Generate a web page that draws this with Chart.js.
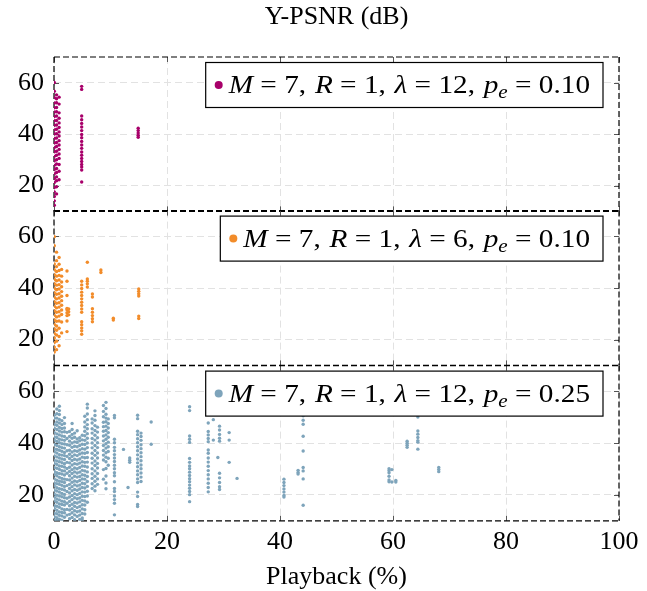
<!DOCTYPE html>
<html>
<head>
<meta charset="utf-8">
<title>Y-PSNR vs playback</title>
<script src="https://cdn.jsdelivr.net/npm/chart.js@4.4.1/dist/chart.umd.min.js"></script>
<style>
  html, body { margin: 0; padding: 0; background: #fff; overflow: hidden; }
  #wrap { position: relative; width: 647px; height: 591px; overflow: hidden; }
  #wrap canvas { position: absolute; left: 0; }
</style>
</head>
<body>
<div id="wrap">
  <canvas id="panel1" width="647" height="213" style="top:0px"></canvas>
  <canvas id="panel2" width="647" height="162" style="top:205px"></canvas>
  <canvas id="panel3" width="647" height="231" style="top:360px"></canvas>
</div>
<script>
// ticks
const playbackTicks = [0, 20, 40, 60, 80, 100];
const psnrTicks = [20, 40, 60];

// legend parameters per panel
const paramM = [7, 7, 7];
const paramR = [1, 1, 1];
const paramLambda = [12, 6, 12];
const paramPe = ['0.10', '0.10', '0.25'];

// panel 1: lambda = 12, pe = 0.10  (playback positions and the PSNR values seen there)
const playback1 = [0.05, 0.45, 0.9, 4.9, 14.9];
const psnr1 = [
  [12.4, 14.1, 15.8, 17.6, 19.3, 21.2, 22.8, 24.6, 26.3, 27.9, 29.7, 31.4, 33.2, 34.8, 36.6, 38.3, 40.1, 41.7, 43.5, 45.2, 46.9, 48.6, 50.3, 52.1, 54.2, 56.7, 60.1],
  [16.8, 19.6, 21.9, 23.4, 25.1, 26.7, 28.4, 30.1, 31.8, 33.4, 35.2, 36.8, 38.5, 40.2, 41.9, 43.6, 45.3, 47.1, 48.7, 50.4, 52.2, 53.8, 55.3],
  [22.3, 25.6, 28.2, 30.6, 32.3, 34.1, 35.8, 37.5, 39.3, 40.9, 42.6, 44.4, 46.2, 48.3, 51.7, 54.4],
  [21.4, 26.1, 27.3, 28.2, 29.4, 30.6, 31.8, 33.1, 34.5, 35.8, 37.2, 38.6, 39.9, 41.4, 42.8, 44.2, 45.6, 47.1, 57.4, 58.6],
  [38.8, 39.6, 40.5, 41.4, 42.3]
];

// panel 2: lambda = 6, pe = 0.10
const playback2 = [0.05, 0.45, 0.9, 1.35, 2.3, 2.6, 4.9, 5.9, 6.8, 8.3, 10.5, 15.0];
const psnr2 = [
  [15.2, 17.1, 18.9, 20.6, 22.4, 24.1, 25.9, 27.6, 29.4, 31.2, 32.9, 34.7, 36.4, 38.2, 39.9, 41.7, 43.4, 45.2, 47.1, 49.3, 56.4, 59.9],
  [16.1, 19.4, 21.8, 23.6, 25.3, 27.1, 28.8, 30.6, 32.3, 34.1, 35.8, 37.6, 39.3, 41.1, 42.8, 44.6, 46.4, 48.3, 50.6, 53.9],
  [17.6, 21.2, 24.4, 27.2, 29.1, 30.8, 32.6, 34.3, 36.1, 37.8, 39.6, 41.3, 43.1, 44.9, 46.8, 49.2, 51.8],
  [22.6, 26.8, 29.7, 31.5, 33.3, 35.1, 36.8, 38.6, 40.5, 42.3, 44.6, 47.2],
  [23.1, 27.2, 29.3, 30.4, 31.6, 32.1, 37.1, 42.6, 46.6],
  [29.6, 30.8, 31.9],
  [22.1, 23.4, 24.5, 25.8, 26.9, 30.6, 31.9, 33.2, 34.5, 35.8, 37.1, 38.4, 39.8, 41.2, 42.6],
  [40.4, 41.6, 42.6, 43.5, 50.0],
  [26.9, 28.1, 29.3, 30.6, 32.0, 36.5, 37.7],
  [46.0, 47.0],
  [27.6, 28.3],
  [28.2, 29.1, 36.9, 37.8, 38.7, 39.6]
];

// panel 3: lambda = 12, pe = 0.25
const playback3 = [0.05, 0.5, 0.95, 1.4, 1.85, 2.3, 2.75, 3.2, 3.65, 4.1, 4.55, 5.0, 5.45, 5.9,
  6.75, 7.25, 7.7, 8.75, 9.2, 9.6, 10.7, 12.3, 13.1, 13.4, 14.8, 15.4, 17.2,
  24.0, 27.3, 28.2, 29.0, 29.3, 31.0, 32.4, 40.7, 43.2, 44.1, 59.3, 59.8, 60.5, 62.5, 64.4, 68.1];
const psnr3 = [
  [10.3, 11.6, 12.9, 14.8, 15.9, 17.7, 19.1, 20.4, 21.8, 23.5, 24.6, 26.2, 27.9, 29.1, 30.6, 32.2, 33.4, 35.1, 36.7, 37.8, 39.5, 41.2, 42.4, 44.1, 45.8, 47.3, 49.6, 50.8],
  [10.1, 11.2, 12.7, 14.1, 15.6, 17.2, 18.4, 19.9, 21.5, 22.8, 24.3, 25.7, 27.4, 28.6, 30.3, 31.8, 33.1, 34.7, 36.2, 37.6, 39.1, 40.7, 42.2, 43.6, 45.3, 46.9, 48.2, 49.7, 51.4, 53.2],
  [10.6, 12.1, 13.4, 15.2, 16.5, 18.1, 19.6, 21.1, 22.4, 24.1, 25.3, 26.8, 28.3, 29.9, 31.2, 32.8, 34.3, 35.6, 37.3, 38.6, 40.2, 41.5, 43.2, 44.7, 46.1, 47.8, 49.2, 51.1, 52.6, 54.3],
  [10.2, 11.9, 13.2, 14.6, 16.3, 17.6, 19.3, 20.6, 22.2, 23.7, 25.1, 26.4, 28.1, 29.4, 31.1, 32.5, 33.9, 35.4, 36.9, 38.3, 39.8, 41.3, 42.8, 44.3, 45.7, 47.2, 48.7],
  [11.4, 13.1, 14.3, 16.1, 17.4, 18.9, 20.2, 21.9, 23.3, 24.8, 26.1, 27.7, 29.3, 30.8, 32.1, 33.7, 35.2, 36.4, 38.1, 39.7, 41.1, 42.6, 44.4, 45.9, 47.6, 49.9],
  [12.2, 14.4, 16.8, 18.7, 21.3, 23.6, 25.9, 28.4, 30.2, 32.6, 34.9, 37.1, 39.4, 41.8, 44.2],
  [10.8, 12.5, 14.2, 15.8, 17.5, 19.2, 20.8, 22.5, 24.1, 25.8, 27.4, 29.1, 30.7, 32.4, 34.1, 35.7, 37.3, 39.2, 40.8, 42.6, 44.5],
  [11.3, 13.1, 14.7, 16.4, 18.2, 19.8, 21.6, 23.2, 24.9, 26.5, 28.3, 29.8, 31.6, 33.3, 34.9, 36.6, 38.4, 40.1, 41.9, 43.4, 45.3, 47.6],
  [10.4, 12.3, 13.9, 15.6, 17.1, 18.9, 20.5, 22.1, 23.9, 25.4, 27.2, 28.9, 30.4, 32.1, 33.8, 35.5, 37.1, 38.8, 40.5, 42.3, 43.9],
  [11.7, 13.5, 15.1, 16.9, 18.5, 20.1, 21.8, 23.5, 25.1, 26.9, 28.5, 30.1, 31.9, 33.5, 35.2, 36.9, 38.6, 40.3, 41.6, 44.8],
  [10.5, 12.2, 13.8, 15.5, 17.3, 18.8, 20.6, 22.3, 23.8, 25.6, 27.1, 28.8, 30.6, 32.3, 33.9, 35.8, 37.4, 39.1, 40.9, 42.1],
  [10.2, 11.1, 12.8, 14.6, 16.2, 17.9, 19.5, 21.2, 22.9, 24.5, 26.2, 27.8, 29.5, 31.2, 32.8, 34.6, 36.2, 37.9, 39.6, 41.3, 43.1],
  [12.6, 14.3, 16.1, 17.7, 19.4, 21.1, 22.7, 24.3, 26.1, 27.6, 29.3, 31.1, 32.6, 34.4, 36.1, 37.7, 39.5, 41.1, 42.9, 44.6, 46.3, 48.2, 50.4],
  [17.2, 19.6, 21.4, 23.3, 25.2, 27.1, 28.9, 30.8, 32.7, 34.5, 36.4, 38.3, 40.1, 41.9, 43.7, 45.6, 47.2, 49.1, 51.3, 53.6, 55.1],
  [22.5, 24.3, 26.4, 28.2, 30.1, 32.3, 34.2, 36.1, 38.2, 40.1, 41.8, 43.9, 45.6, 47.8, 49.4],
  [21.6, 23.4, 25.3, 27.2, 29.3, 31.4, 33.1, 35.3, 37.2, 39.1, 41.2, 43.1, 44.9, 46.8, 48.9, 50.7, 52.5],
  [24.1, 26.2, 28.3, 30.4, 32.2, 34.3, 36.2, 38.3, 40.2, 42.1, 44.3, 46.2],
  [26.1, 29.8, 33.5, 35.4, 37.2, 39.1, 40.9, 42.8, 44.6, 46.4, 48.1, 50.2, 52.3, 54.6],
  [22.4, 24.6, 27.3, 30.2, 32.8, 34.6, 36.3, 38.1, 39.8, 41.5, 43.2, 44.9, 46.6, 48.3, 49.7, 51.2, 53.4, 55.8],
  [31.5, 34.2, 36.8, 38.6, 40.4, 42.3, 44.1, 45.9, 47.6, 49.4],
  [12.3, 16.8, 18.2, 19.6, 21.3, 22.5, 25.1, 27.4, 28.6, 30.1, 31.5, 32.9, 34.3, 35.6, 37.1, 38.4, 40.2, 41.5, 49.8, 50.7],
  [37.6],
  [22.9],
  [32.6, 33.4, 34.3],
  [15.5, 16.3, 19.4, 21.1, 24.8, 26.2, 27.8, 29.3, 30.9, 32.4, 33.9, 35.5, 37.1, 38.6, 40.2, 41.7, 43.3, 44.6, 49.5, 50.8],
  [25.2, 26.9, 28.5, 30.1, 31.6, 33.2, 34.8, 36.3, 37.9, 39.4, 41.1, 42.6, 43.9],
  [48.2, 39.6],
  [17.4, 20.1, 21.3, 22.6, 23.8, 25.1, 26.3, 27.5, 28.8, 30.1, 31.2, 32.6, 34.1, 40.3, 41.5, 42.8, 52.6, 54.1],
  [21.2, 22.9, 24.5, 26.2, 27.8, 29.4, 31.1, 32.7, 34.3, 36.1, 37.4, 40.6, 41.8, 43.2, 44.5, 47.8],
  [49.1, 41.2],
  [34.5],
  [46.6, 45.1, 43.4, 41.9, 40.8, 28.4, 26.6, 24.8, 23.2, 22.1],
  [44.1, 41.2, 32.6],
  [26.4],
  [26.1, 24.8, 23.6, 22.3, 21.1, 19.8, 19.2],
  [29.5, 28.7, 28.1],
  [54.1, 52.3, 50.6, 48.9, 47.3, 42.7, 37.0, 30.6, 29.3, 26.2, 16.0],
  [30.1, 29.4, 28.6, 27.2, 25.8, 25.1],
  [29.8, 25.0],
  [25.0, 25.6],
  [40.8, 40.0, 39.2, 38.4],
  [51.0, 50.1, 44.7, 43.5, 42.2, 41.0, 40.4, 37.7],
  [30.6, 29.8, 29.0]
];

const playbacks = [playback1, playback2, playback3];
const psnrs = [psnr1, psnr2, psnr3];
const colors = ['#a8006a', '#f28c2a', '#7ea4bb'];

// where each plot frame should sit on the page (top, bottom in px)
const frameTop = [57, 211, 366];
const frameBottom = [211, 366, 521];

Chart.defaults.font.family = '"Liberation Serif", "Times New Roman", serif';
Chart.defaults.color = '#000';

// dashed frame + inward tick marks like pgfplots
const framePlugin = {
  id: 'frame',
  beforeDatasetsDraw(chart) {
    const { ctx, chartArea: a, scales } = chart;
    const line = (x1, y1, x2, y2) => { ctx.beginPath(); ctx.moveTo(x1, y1); ctx.lineTo(x2, y2); ctx.stroke(); };
    ctx.save();
    ctx.strokeStyle = '#555';
    ctx.lineWidth = 1;
    scales.y.ticks.forEach(t => {
      const py = Math.round(scales.y.getPixelForValue(t.value)) + 0.5;
      line(a.left, py, a.left + 5, py);
      line(a.right - 5, py, a.right, py);
    });
    scales.x.ticks.forEach(t => {
      const px = Math.round(scales.x.getPixelForValue(t.value)) + 0.5;
      line(px, a.bottom, px, a.bottom - 5);
      line(px, a.top, px, a.top + 5);
    });
    ctx.strokeStyle = '#000';
    ctx.lineWidth = 1.2;
    ctx.setLineDash([6, 3]);
    line(a.left, a.top, a.right, a.top);
    line(a.left, a.bottom, a.right, a.bottom);
    line(a.left, a.top, a.left, a.bottom);
    line(a.right, a.top, a.right, a.bottom);
    ctx.restore();
  }
};

function legendParts(i) {
  return [
    ['M', 'i'], ['=', 'rel'], [paramM[i] + ',', 'n'], [' ', 'sp'],
    ['R', 'i'], ['=', 'rel'], [paramR[i] + ',', 'n'], [' ', 'sp'],
    ['\u03bb', 'i'], ['=', 'rel'], [paramLambda[i] + ',', 'n'], [' ', 'sp'],
    ['p', 'i'], ['e', 'sub'], ['=', 'rel'], [paramPe[i], 'n']
  ];
}

function makeLegend(i) {
  return {
    id: 'legendBox' + i,
    afterDraw(chart) {
      const { ctx, chartArea: a } = chart;
      const size = 25, sx = 1.17;
      const fontOf = k => k === 'i' ? `italic ${size}px "Liberation Serif"` :
        k === 'sub' ? `italic 18px "Liberation Serif"` : `${size}px "Liberation Serif"`;
      const parts = legendParts(i);
      ctx.save();
      let w = 0;
      const widths = parts.map(([t, k]) => {
        ctx.font = fontOf(k);
        let pw = k === 'sp' ? size * 0.3 : ctx.measureText(t).width;
        if (k === 'rel') pw += size * 0.5;
        w += pw;
        return pw;
      });
      const boxW = 23 + w * sx + 13, boxH = 45;
      const right = a.right - 16, left = right - boxW, top = a.top + 5.5;
      ctx.fillStyle = '#fff';
      ctx.fillRect(left, top, boxW, boxH);
      ctx.strokeStyle = '#000';
      ctx.lineWidth = 1.2;
      ctx.strokeRect(left, top, boxW, boxH);
      ctx.fillStyle = colors[i];
      ctx.beginPath();
      ctx.arc(left + 13, top + boxH / 2, 4, 0, Math.PI * 2);
      ctx.fill();
      ctx.translate(left + 23, top + boxH / 2 + 8);
      ctx.scale(sx, 1);
      ctx.fillStyle = '#000';
      ctx.textBaseline = 'alphabetic';
      let x = 0;
      parts.forEach(([t, k], j) => {
        ctx.font = fontOf(k);
        if (k === 'rel') ctx.fillText(t, x + size * 0.25, 0);
        else if (k === 'sub') ctx.fillText(t, x, 5);
        else if (k !== 'sp') ctx.fillText(t, x, 0);
        x += widths[j];
      });
      ctx.restore();
    }
  };
}

function makePanel(id, i, opts) {
  const data = playbacks[i].flatMap((x, k) => psnrs[i][k].map(y => ({ x, y })));
  const gridOpts = { color: '#e2e2e2', lineWidth: 1, drawTicks: false };
  const borderOpts = { display: false, dash: [7, 4] };
  const chart = new Chart(document.getElementById(id), {
    type: 'scatter',
    data: {
      datasets: [{
        data: data,
        backgroundColor: colors[i],
        borderWidth: 0,
        pointRadius: 1.7,
        pointHoverRadius: 1.7
      }]
    },
    options: {
      responsive: false,
      maintainAspectRatio: false,
      animation: false,
      events: [],
      layout: { padding: { top: 0, bottom: 0, left: 0, right: 28 } },
      plugins: {
        legend: { display: false },
        tooltip: { enabled: false },
        title: {
          display: !!opts.title,
          text: opts.title || '',
          fullSize: false,
          color: '#000',
          font: { size: 26, weight: 'normal' },
          padding: { top: 2, bottom: 23.8 }
        }
      },
      scales: {
        x: {
          type: 'linear',
          min: 0,
          max: 100,
          afterBuildTicks: s => { s.ticks = playbackTicks.map(v => ({ value: v })); },
          afterFit: s => { if (!opts.xLabels) s.height = 0; },
          grid: gridOpts,
          border: borderOpts,
          ticks: { display: opts.xLabels, padding: 6, font: { size: 26 }, color: '#000' },
          title: {
            display: opts.xLabels,
            text: 'Playback (%)',
            color: '#000',
            font: { size: 26, lineHeight: 1 },
            padding: { top: 0, bottom: 0 }
          }
        },
        y: {
          type: 'linear',
          min: 10,
          max: 70,
          afterBuildTicks: s => { s.ticks = psnrTicks.map(v => ({ value: v })); },
          afterFit: s => { s.width = 54; },
          grid: gridOpts,
          border: borderOpts,
          ticks: { padding: 10, font: { size: 26 }, color: '#000' }
        }
      }
    },
    plugins: [framePlugin, makeLegend(i)]
  });

  // move/resize the canvas so the plot frame lands where the figure has it
  const a = chart.chartArea;
  const above = a.top, below = chart.height - a.bottom;
  chart.canvas.style.top = (frameTop[i] - above) + 'px';
  chart.resize(647, Math.round(frameBottom[i] - frameTop[i] + above + below));
  return chart;
}

makePanel('panel1', 0, { title: 'Y-PSNR (dB)', xLabels: false });
makePanel('panel2', 1, { xLabels: false });
makePanel('panel3', 2, { xLabels: true });
</script>
</body>
</html>
